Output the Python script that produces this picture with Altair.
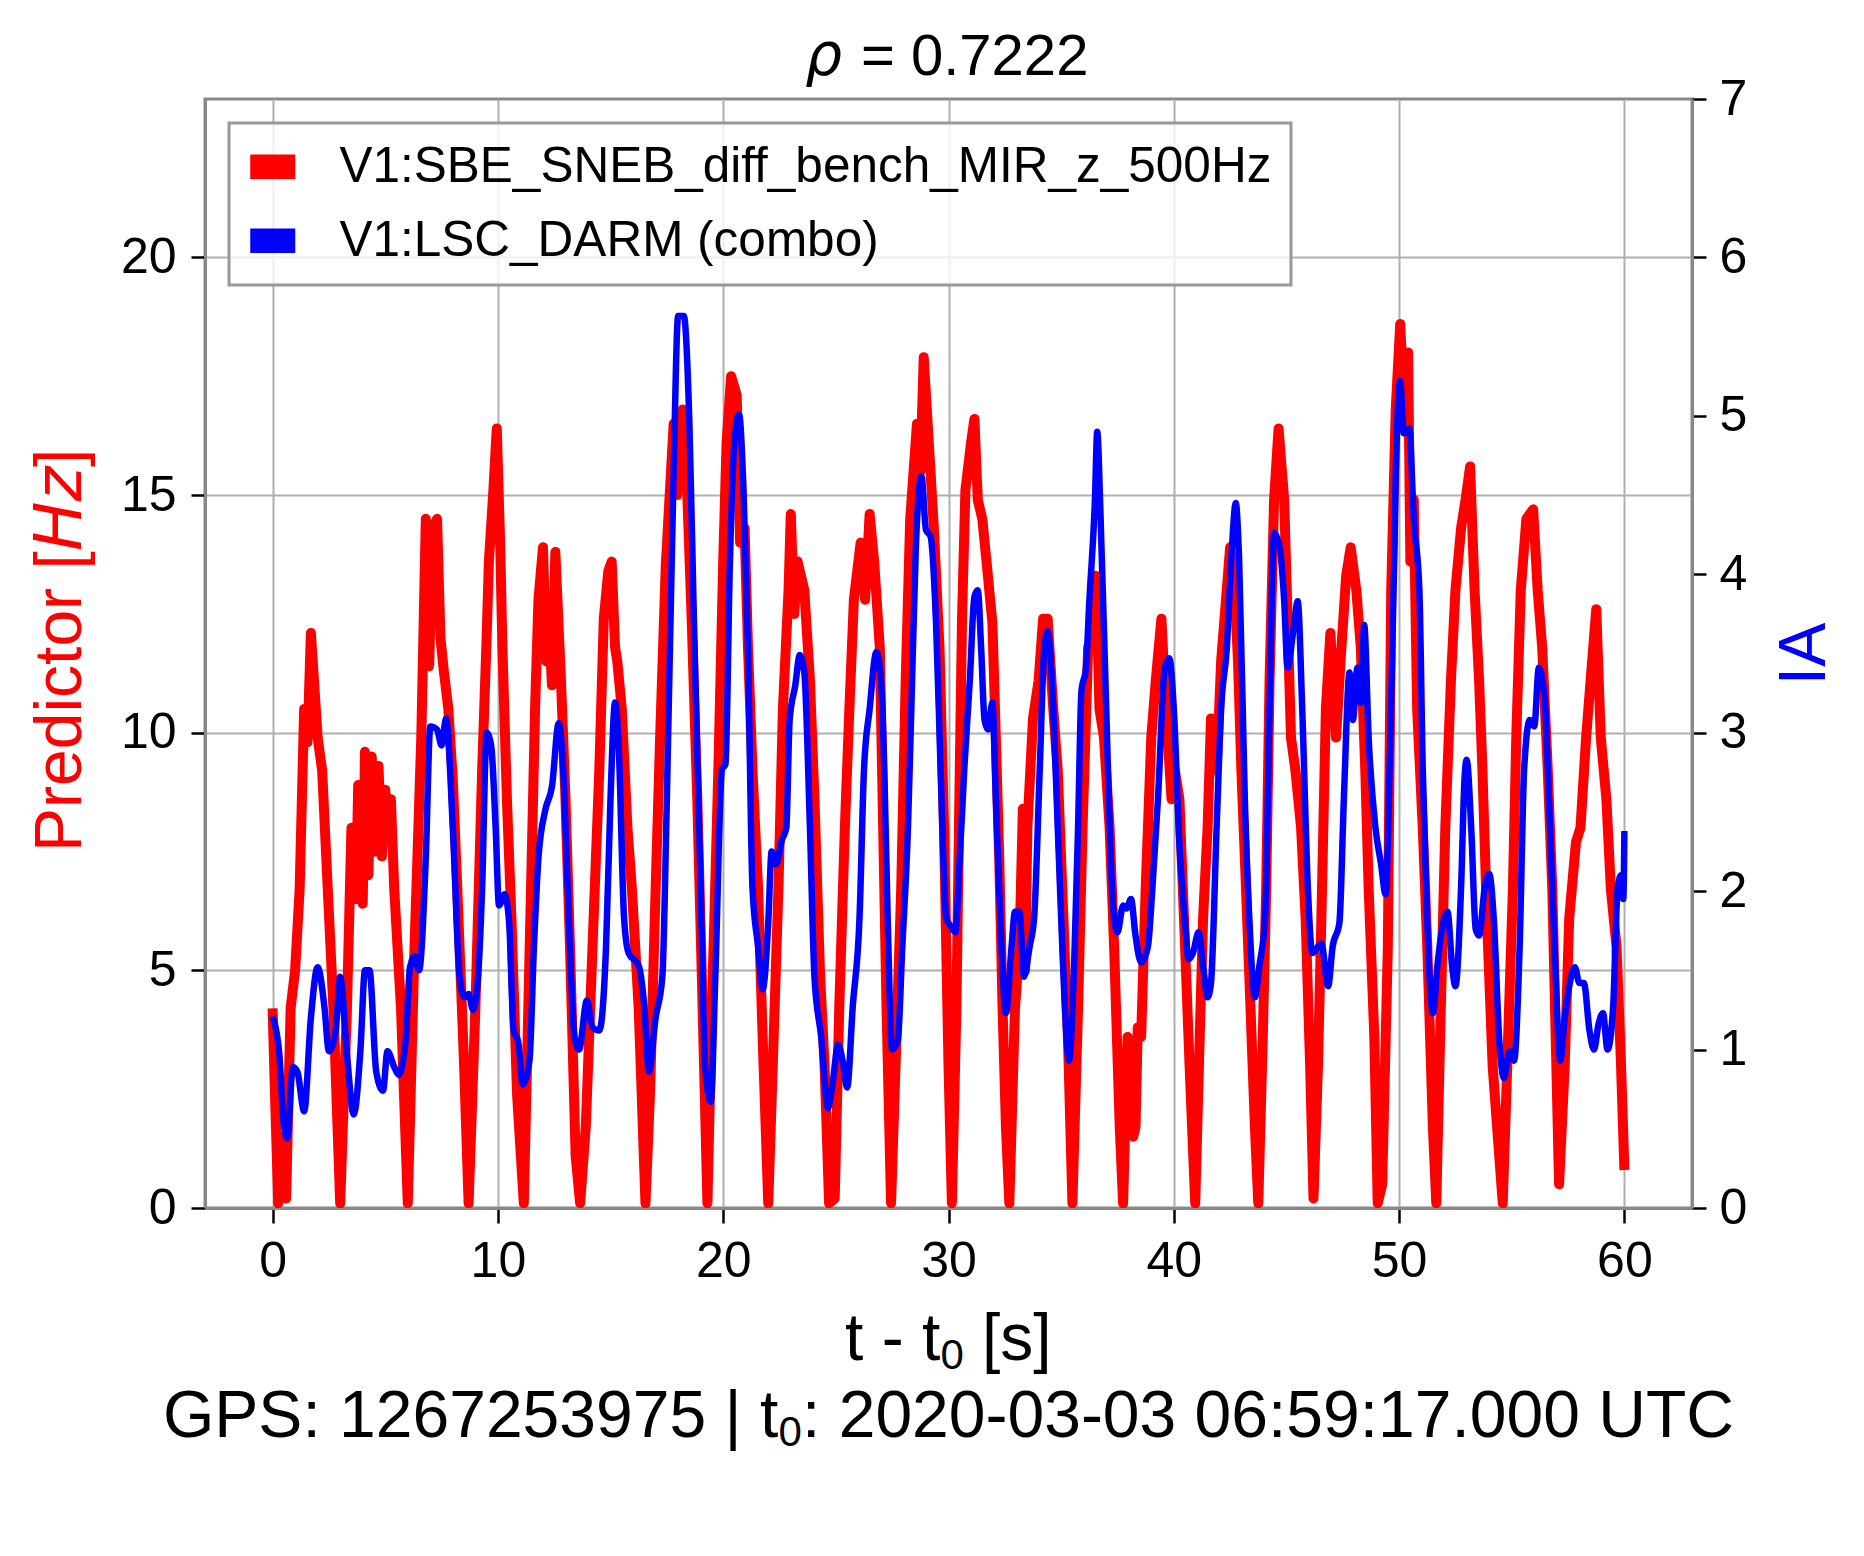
import altair as alt
import pandas as pd

RED_NAME = "V1:SBE_SNEB_diff_bench_MIR_z_500Hz"
BLUE_NAME = "V1:LSC_DARM (combo)"

red_t = [0.0, 0.1, 0.25, 0.45, 0.6, 0.8, 1.0, 1.2, 1.4, 1.55, 1.7, 1.85, 2.0, 2.2, 2.4, 2.7, 3.0, 3.3, 3.5, 3.7,
         3.8, 4.0, 4.1, 4.25, 4.4, 4.55, 4.7, 4.85, 5.0, 5.1, 5.25, 5.4, 5.7, 6.0, 6.3, 6.6, 6.8, 6.95, 7.1, 7.3,
         7.45, 7.6, 7.8, 8.0, 8.2, 8.5, 8.7, 9.0, 9.3, 9.5, 9.6, 9.8, 9.95, 10.1, 10.2, 10.4, 10.6, 10.85, 11.15, 11.35,
         11.65, 11.8, 12.0, 12.15, 12.25, 12.4, 12.55, 12.8, 13.0, 13.2, 13.45, 13.65, 13.9, 14.2, 14.5, 14.7, 14.9, 15.05, 15.2, 15.3,
         15.5, 15.75, 15.95, 16.25, 16.55, 16.75, 17.0, 17.2, 17.45, 17.8, 17.95, 18.2, 18.4, 18.6, 18.85, 19.05, 19.3, 19.5, 19.8, 20.0,
         20.15, 20.35, 20.6, 20.75, 20.95, 21.1, 21.3, 21.55, 21.75, 22.0, 22.2, 22.45, 22.65, 22.9, 23.0, 23.15, 23.3, 23.6, 23.85, 24.05,
         24.3, 24.5, 24.7, 24.95, 25.15, 25.4, 25.6, 25.8, 26.1, 26.3, 26.5, 26.7, 26.95, 27.1, 27.25, 27.45, 27.65, 27.9, 28.1, 28.3,
         28.6, 28.75, 28.9, 29.15, 29.35, 29.6, 29.8, 30.0, 30.15, 30.35, 30.5, 30.6, 30.75, 31.0, 31.15, 31.3, 31.5, 31.75, 31.95, 32.1,
         32.25, 32.4, 32.55, 32.7, 32.95, 33.15, 33.3, 33.4, 33.5, 33.75, 34.0, 34.2, 34.4, 34.65, 34.85, 35.05, 35.3, 35.5, 35.75, 35.95,
         36.2, 36.4, 36.55, 36.7, 36.9, 37.15, 37.35, 37.6, 37.75, 37.95, 38.1, 38.2, 38.3, 38.4, 38.55, 38.75, 39.0, 39.2, 39.45, 39.65,
         39.9, 40.05, 40.25, 40.5, 40.7, 40.95, 41.15, 41.3, 41.5, 41.65, 41.9, 42.1, 42.25, 42.5, 42.7, 42.85, 43.0, 43.15, 43.35, 43.6,
         43.75, 43.95, 44.1, 44.25, 44.45, 44.65, 44.9, 45.05, 45.2, 45.4, 45.65, 45.85, 46.05, 46.2, 46.4, 46.55, 46.75, 46.95, 47.2, 47.4,
         47.65, 47.85, 48.1, 48.3, 48.5, 48.65, 48.9, 49.05, 49.25, 49.5, 49.65, 49.85, 50.05, 50.2, 50.4, 50.5, 50.65, 50.8, 51.05, 51.25,
         51.5, 51.65, 51.85, 52.05, 52.3, 52.5, 52.75, 52.95, 53.15, 53.35, 53.55, 53.7, 53.9, 54.15, 54.35, 54.6, 54.8, 55.05, 55.2, 55.4,
         55.65, 55.95, 56.15, 56.35, 56.6, 56.8, 56.95, 57.1, 57.35, 57.55, 57.85, 58.05, 58.3, 58.5, 58.75, 58.95, 59.2, 59.4, 59.65, 59.85,
         60.0]
red_v = [4.2, 2.5, 0.1, 1.5, 0.2, 4.2, 5.0, 6.7, 10.5, 9.8, 12.1, 11.0, 9.9, 9.2, 7.2, 4.2, 0.1, 4.2, 8.0, 6.5,
         8.9, 6.4, 9.6, 7.0, 9.5, 7.5, 9.3, 7.4, 8.8, 7.8, 8.6, 6.7, 4.2, 0.1, 5.5, 9.9, 14.5, 11.4, 14.3, 14.5,
         12.0, 11.3, 10.5, 9.0, 6.7, 3.0, 0.1, 4.2, 9.2, 12.0, 13.6, 15.1, 16.4, 14.0, 11.8, 8.6, 6.1, 2.4, 0.1, 4.2,
         10.5, 12.8, 13.9, 11.5, 12.5, 11.0, 13.8, 11.1, 8.6, 5.5, 1.1, 0.1, 1.7, 5.5, 9.2, 12.4, 13.4, 13.6, 11.8, 11.5,
         10.5, 8.0, 6.7, 4.2, 0.1, 2.4, 6.7, 9.9, 13.5, 16.5, 15.0, 16.8, 15.1, 12.4, 8.6, 4.9, 0.1, 4.2, 9.5, 13.6,
         16.1, 17.5, 17.1, 14.0, 14.3, 11.8, 9.2, 6.7, 3.6, 0.1, 3.0, 6.7, 10.5, 13.0, 14.6, 12.5, 13.6, 13.0, 11.1, 8.6,
         4.9, 3.0, 0.1, 0.2, 4.2, 8.0, 10.5, 12.8, 14.0, 12.8, 14.6, 13.6, 11.8, 8.0, 4.2, 0.1, 3.0, 6.7, 11.1, 14.5,
         16.5, 15.5, 17.9, 15.9, 14.3, 11.8, 8.0, 3.0, 0.1, 4.2, 9.2, 12.4, 15.1, 16.1, 16.6, 14.9, 14.5, 13.3, 12.3, 9.9,
         7.4, 4.2, 1.7, 0.1, 4.2, 5.5, 8.4, 5.0, 8.0, 10.3, 11.1, 12.4, 12.4, 10.5, 9.2, 6.7, 3.6, 0.1, 4.2, 8.0,
         11.8, 11.8, 13.3, 10.5, 9.9, 8.0, 5.5, 1.7, 0.1, 3.6, 3.0, 1.5, 1.7, 3.8, 3.6, 6.7, 9.9, 11.1, 12.4, 10.5,
         8.6, 9.2, 8.6, 5.5, 3.0, 0.1, 3.6, 6.1, 8.0, 10.3, 9.2, 11.5, 12.4, 13.9, 13.0, 11.5, 9.2, 7.4, 4.9, 1.7,
         0.1, 3.6, 6.7, 11.1, 14.9, 16.4, 14.9, 12.4, 9.9, 9.2, 8.0, 6.1, 3.0, 0.2, 3.0, 6.1, 10.5, 12.1, 9.9, 11.5,
         13.3, 13.9, 13.0, 11.8, 9.2, 6.7, 3.6, 0.1, 0.5, 5.5, 13.0, 16.8, 18.6, 17.0, 18.0, 13.6, 14.9, 10.5, 8.0, 5.5,
         1.7, 0.1, 4.2, 8.0, 11.1, 13.0, 14.3, 14.9, 15.6, 13.0, 11.1, 9.2, 6.1, 3.0, 1.7, 0.1, 3.0, 6.7, 9.9, 13.0,
         14.5, 14.7, 13.0, 11.8, 9.2, 6.7, 3.6, 0.5, 3.0, 6.1, 7.7, 8.0, 9.9, 11.1, 12.6, 9.9, 8.6, 6.7, 5.5, 3.0,
         0.8]

blue_t = [0.0, 0.3, 0.5, 0.65, 0.9, 1.1, 1.4, 1.7, 2.0, 2.3, 2.5, 2.8, 3.0, 3.3, 3.6, 3.9, 4.1, 4.3, 4.6, 4.9,
          5.1, 5.4, 5.6, 5.9, 6.1, 6.3, 6.5, 6.8, 7.0, 7.3, 7.5, 7.7, 8.0, 8.3, 8.5, 8.7, 8.9, 9.1, 9.3, 9.5,
          9.7, 9.9, 10.05, 10.3, 10.5, 10.7, 10.9, 11.1, 11.4, 11.6, 11.8, 12.1, 12.4, 12.7, 12.9, 13.1, 13.4, 13.6, 13.95, 14.2,
          14.5, 14.8, 15.0, 15.2, 15.35, 15.6, 15.8, 16.25, 16.5, 16.7, 17.0, 17.3, 17.5, 17.8, 18.0, 18.25, 18.5, 18.7, 19.0, 19.2,
          19.45, 19.65, 19.95, 20.1, 20.3, 20.5, 20.7, 20.9, 21.1, 21.3, 21.55, 21.75, 22.0, 22.15, 22.35, 22.6, 22.8, 22.95, 23.2, 23.4,
          23.6, 23.85, 24.05, 24.35, 24.65, 24.85, 25.1, 25.3, 25.5, 25.75, 26.05, 26.25, 26.5, 26.8, 27.0, 27.15, 27.3, 27.5, 27.75, 27.95,
          28.2, 28.35, 28.55, 28.8, 29.0, 29.2, 29.45, 29.65, 29.9, 30.1, 30.3, 30.5, 30.7, 30.95, 31.15, 31.3, 31.45, 31.6, 31.75, 31.95,
          32.1, 32.35, 32.55, 32.8, 32.95, 33.15, 33.35, 33.6, 33.8, 34.05, 34.25, 34.4, 34.65, 34.85, 35.05, 35.35, 35.6, 35.75, 35.9, 36.1,
          36.25, 36.5, 36.6, 36.75, 37.0, 37.2, 37.35, 37.5, 37.75, 37.9, 38.1, 38.3, 38.55, 38.85, 39.05, 39.3, 39.6, 39.8, 40.0, 40.25,
          40.5, 40.65, 40.85, 41.1, 41.3, 41.5, 41.65, 41.9, 42.1, 42.35, 42.55, 42.75, 42.9, 43.15, 43.35, 43.6, 43.8, 44.05, 44.25, 44.45,
          44.7, 44.9, 45.05, 45.3, 45.5, 45.7, 45.95, 46.15, 46.55, 46.85, 47.05, 47.35, 47.55, 47.8, 47.95, 48.15, 48.3, 48.45, 48.65, 48.95,
          49.2, 49.4, 49.6, 49.8, 49.85, 50.05, 50.2, 50.45, 50.65, 50.9, 51.05, 51.2, 51.35, 51.5, 51.7, 51.95, 52.15, 52.35, 52.5, 52.75,
          52.9, 53.0, 53.2, 53.4, 53.55, 53.8, 54.0, 54.2, 54.45, 54.65, 54.9, 55.1, 55.35, 55.55, 55.8, 56.0, 56.2, 56.45, 56.65, 56.9,
          57.15, 57.35, 57.55, 57.8, 58.0, 58.2, 58.45, 58.65, 58.85, 59.05, 59.25, 59.5, 59.7, 59.85, 59.95, 60.0]
blue_v = [1.21, 0.97, 0.52, 0.44, 0.89, 0.86, 0.61, 1.2, 1.52, 1.27, 0.99, 1.12, 1.46, 0.97, 0.59, 1.0, 1.5, 1.5, 0.86, 0.74,
          0.99, 0.89, 0.84, 1.05, 1.52, 1.59, 1.5, 2.21, 3.04, 3.02, 2.92, 3.09, 2.4, 1.46, 1.33, 1.35, 1.25, 1.42, 2.02, 3.0,
          2.92, 2.4, 1.91, 1.98, 1.8, 1.12, 1.05, 0.78, 0.93, 1.65, 2.21, 2.51, 2.66, 3.06, 2.77, 2.02, 1.08, 1.0, 1.31, 1.14,
          1.12, 1.65, 2.59, 3.19, 2.96, 1.83, 1.61, 1.53, 1.27, 0.86, 1.2, 1.46, 2.59, 4.65, 5.63, 5.63, 4.95, 3.71, 2.02, 0.89,
          0.67, 1.46, 2.77, 2.8, 4.09, 4.84, 5.01, 4.54, 3.53, 2.02, 1.65, 1.38, 1.8, 2.25, 2.17, 2.32, 2.4, 3.08, 3.3, 3.49,
          3.38, 2.4, 1.46, 1.08, 0.63, 0.78, 1.03, 0.93, 0.76, 1.27, 1.83, 2.77, 3.15, 3.51, 3.34, 2.77, 1.83, 1.0, 1.06, 1.65,
          2.4, 3.15, 4.17, 4.62, 4.28, 4.24, 3.68, 2.77, 1.83, 1.78, 1.74, 2.21, 2.77, 3.34, 3.86, 3.9, 3.53, 3.08, 3.02, 3.19,
          2.59, 1.65, 1.23, 1.65, 1.87, 1.87, 1.46, 1.65, 1.83, 2.77, 3.53, 3.64, 3.15, 2.4, 1.65, 0.93, 1.65, 2.4, 3.26, 3.41,
          3.83, 4.47, 4.9, 4.36, 3.15, 2.21, 1.83, 1.74, 1.91, 1.89, 1.95, 1.72, 1.55, 1.65, 2.02, 2.59, 3.41, 3.47, 3.15, 2.3,
          1.8, 1.57, 1.61, 1.74, 1.53, 1.33, 1.42, 2.4, 3.15, 3.53, 4.09, 4.45, 4.09, 2.59, 1.83, 1.33, 1.53, 1.83, 3.15, 4.26,
          4.17, 3.83, 3.41, 3.64, 3.83, 3.15, 2.02, 1.61, 1.67, 1.4, 1.65, 1.8, 2.59, 3.38, 3.08, 3.41, 3.19, 3.68, 2.96, 2.4,
          2.17, 1.98, 2.9, 4.2, 4.65, 5.22, 4.89, 4.92, 4.35, 3.9, 2.77, 2.02, 1.46, 1.23, 1.53, 1.8, 1.87, 1.53, 1.4, 2.02,
          2.7, 2.83, 2.4, 1.76, 1.72, 2.02, 2.11, 1.83, 1.05, 0.82, 0.99, 0.93, 1.65, 2.77, 3.08, 3.04, 3.41, 3.23, 2.59, 1.65,
          0.93, 1.2, 1.4, 1.52, 1.42, 1.42, 1.12, 1.0, 1.16, 1.23, 1.0, 1.27, 2.02, 2.1, 1.95, 2.38]

x_ticks = [0, 10, 20, 30, 40, 50, 60]
left_ticks = [0, 5, 10, 15, 20]
right_ticks = [0, 1, 2, 3, 4, 5, 6, 7]

FONT = "Liberation Sans, DejaVu Sans, sans-serif"
MATH_FONT = "DejaVu Sans, Liberation Sans, sans-serif"
W, H = 1487, 1109

red_df = pd.DataFrame({"t": red_t, "v": red_v, "series": RED_NAME})
blue_df = pd.DataFrame({"t": blue_t, "v": blue_v, "series": BLUE_NAME})
legend_df = pd.DataFrame({"series": [RED_NAME, BLUE_NAME]})

RECT = "M-1,-0.54H1V0.54H-1Z"

color = alt.Color(
    "series:N",
    scale=alt.Scale(domain=[RED_NAME, BLUE_NAME], range=["#ff0000", "#0000ff"]),
    legend=alt.Legend(
        title=None, orient="top-left", offset=24, padding=19,
        strokeColor="#999999", fillColor="rgba(255,255,255,0.8)",
        labelFontSize=49.5, labelFont=FONT, labelColor="black", labelLimit=2000,
        symbolType=RECT, symbolSize=2025, symbolStrokeWidth=0,
        labelOffset=42, rowPadding=23, symbolOpacity=1,
    ),
)

x_enc = alt.X(
    "t:Q",
    scale=alt.Scale(domain=[-3, 63], nice=False, zero=False),
    axis=alt.Axis(values=x_ticks, grid=True, title=None, labelPadding=13, tickSize=15),
)

legend_layer = alt.Chart(legend_df).mark_square(size=0, filled=True, opacity=0).encode(
    x=alt.value(0), y=alt.value(0), color=color,
)

red = alt.Chart(red_df).mark_line(strokeWidth=10, strokeJoin="round", clip=True).encode(
    x=x_enc,
    y=alt.Y(
        "v:Q",
        scale=alt.Scale(domain=[0, 70 / 3], nice=False, zero=True),
        axis=alt.Axis(values=left_ticks, grid=True, title=None, labelPadding=15, tickSize=14),
    ),
    color=color,
)

blue = alt.Chart(blue_df).mark_line(strokeWidth=6.5, interpolate="monotone", clip=True).encode(
    x=x_enc,
    y=alt.Y(
        "v:Q",
        scale=alt.Scale(domain=[0, 7], nice=False, zero=True),
        axis=alt.Axis(
            orient="right", values=right_ticks, grid=False, title="IA",
            titleColor="#0000ff", titleFontSize=66, titleFontWeight="normal", titleFont=FONT,
            titleAngle=270, titleBaseline="alphabetic", titleX=132, titleY=H / 2,
            titleAlign="center", labelPadding=13, tickSize=14,
        ),
    ),
    color=color,
)


def label(text, x, y, size, col="black", font=FONT, style="normal", align="left", angle=0):
    return alt.Chart(pd.DataFrame({"label": [text]})).mark_text(
        fontSize=size, font=font, fontStyle=style, baseline="alphabetic", align=align,
        color=col, angle=angle,
    ).encode(x=alt.value(x), y=alt.value(y), text="label:N")


texts = [
    # title: italic rho, then value
    label("ρ", 637, -24, 58, font=MATH_FONT, style="italic", align="right"),
    label("= 0.7222", 656, -24, 58),
    # left axis title "Predictor [Hz]" with italic Hz (reads upward)
    label("Predictor [", -124, 753, 66, col="#ff0000", angle=270),
    label("Hz", -124, 452, 66, col="#ff0000", font=MATH_FONT, style="italic", angle=270),
    label("]", -124, 368, 66, col="#ff0000", angle=270),
    # x axis title "t - t0 [s]" with subscript 0
    label("t - t", 640, 1261, 66),
    label("0", 735.5, 1270, 42),
    label("[s]", 777, 1261, 66),
    # bottom line "GPS: ... | t0: ..."
    label("GPS: 1267253975 | t", -42, 1338, 66),
    label("0", 573.5, 1347, 42),
    label(": 2020-03-03 06:59:17.000 UTC", 597, 1338, 66),
]

chart = (
    alt.layer(legend_layer, red, blue, *texts)
    .resolve_scale(y="independent")
    .properties(
        width=W, height=H,
        autosize=alt.AutoSizeParams(type="none"),
        padding={"left": 197, "top": 91, "right": 160, "bottom": 330},
        background="white",
    )
    .configure_view(stroke="#888888", strokeWidth=3)
    .configure_axis(
        labelFont=FONT, labelFontSize=50, labelColor="black",
        gridColor="#b0b0b0", gridWidth=2, gridOpacity=1,
        domainColor="#888888", domainWidth=3,
        tickColor="black", tickWidth=2.5,
    )
    .configure_legend(strokeWidth=3, cornerRadius=0)
)

chart.save("out.html", embed_options={"renderer": "svg", "actions": False})
